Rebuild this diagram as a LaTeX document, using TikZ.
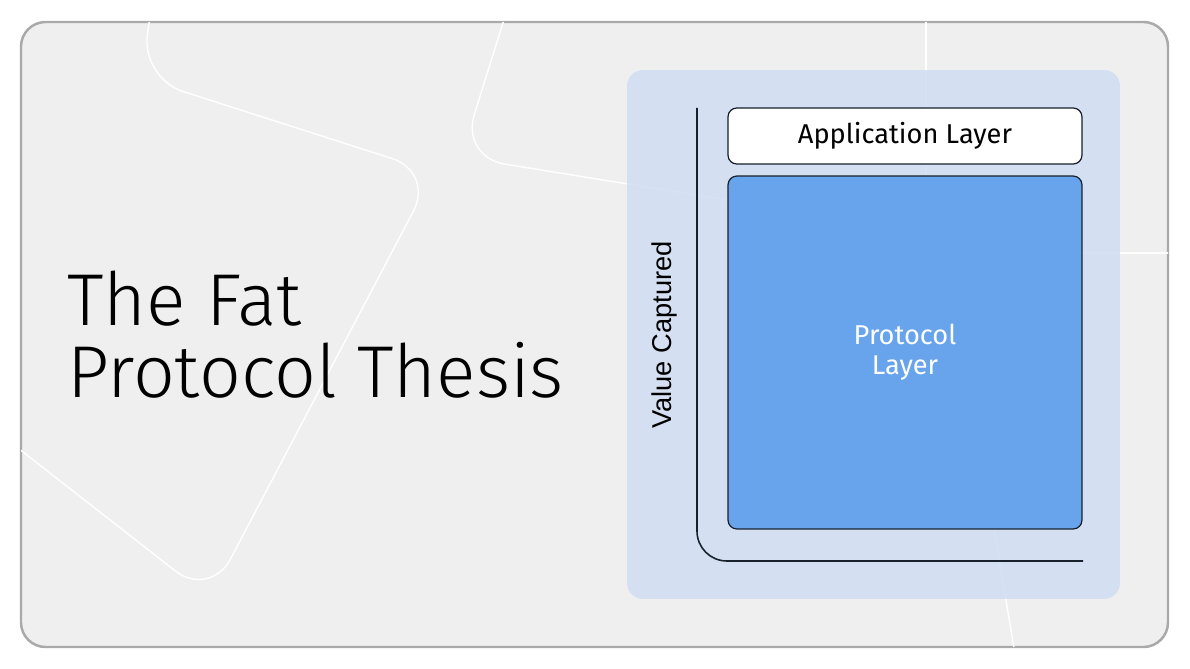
\documentclass[tikz,border=0pt]{standalone}
\usepackage{fontspec}
\setmainfont{Fira Sans}
\newfontfamily\titlefont{Fira Sans Light}
\newfontfamily\axisfont{Liberation Sans}
\usetikzlibrary{positioning}
\definecolor{framegray}{HTML}{A9A9A9}
\definecolor{cardgray}{HTML}{EFEFEF}
\definecolor{panelblue}{HTML}{D1DFF2}
\definecolor{protoblue}{HTML}{68A4EC}
\definecolor{inkdark}{HTML}{17202B}

\begin{document}
\begin{tikzpicture}[x=0.02cm, y=-0.02cm,
    bgline/.style={white, line width=0.8pt, rounded corners=25pt},
    title/.style={anchor=base west, inner sep=0pt, font=\titlefont\fontsize{41.8}{42}\selectfont},
    layer/.style={draw=inkdark, line width=0.7pt, rounded corners=5pt, minimum width=7.08cm, font=\fontsize{15.5}{17}\selectfont}]
\useasboundingbox[fill=white] (0,0) rectangle (1190,669);
% card
\draw[framegray, line width=1.4pt, fill=cardgray, rounded corners=14pt] (21,22) rectangle (1168,647);
\begin{scope}
    \clip[rounded corners=14pt] (21,22) rectangle (1168,647);
    \draw[bgline] (151,10) -- (141,78) -- (434,172) -- (210,598) -- (0,434);
    \draw[bgline] (507,10) -- (461,157) -- (745,203);
    \draw[white, line width=0.8pt] (926,10) -- (926,253) -- (1180,253);
    \draw[white, line width=0.8pt] (990,505) -- (1016,660);
\end{scope}
% title
\node[title] (titletop) at (67,325) {The Fat};
\node[title] (titlebot) at (67,397) {Protocol Thesis};
% panel
\node[fill=panelblue, fill opacity=0.88, rounded corners=9pt, minimum width=9.86cm, minimum height=10.58cm] (panel) at (873.5,334.5) {};
\coordinate (ytop) at (697,108);
\coordinate (origin) at (697,561);
\coordinate (xend) at (1083,561);
\draw[inkdark, line width=0.9pt, rounded corners=17pt] (ytop) -- (origin) -- (xend);
\node[rotate=90, font=\axisfont\fontsize{15.5}{17}\selectfont] (vlabel) at (664,335) {Value Captured};
% layers
\node[layer, fill=white, minimum height=1.12cm] (app) at (905,136) {Application Layer};
\node[layer, fill=protoblue, minimum height=7.06cm, text=white, align=center] (proto) at (905,352.5) {Protocol\\Layer};
\end{tikzpicture}
\end{document}
